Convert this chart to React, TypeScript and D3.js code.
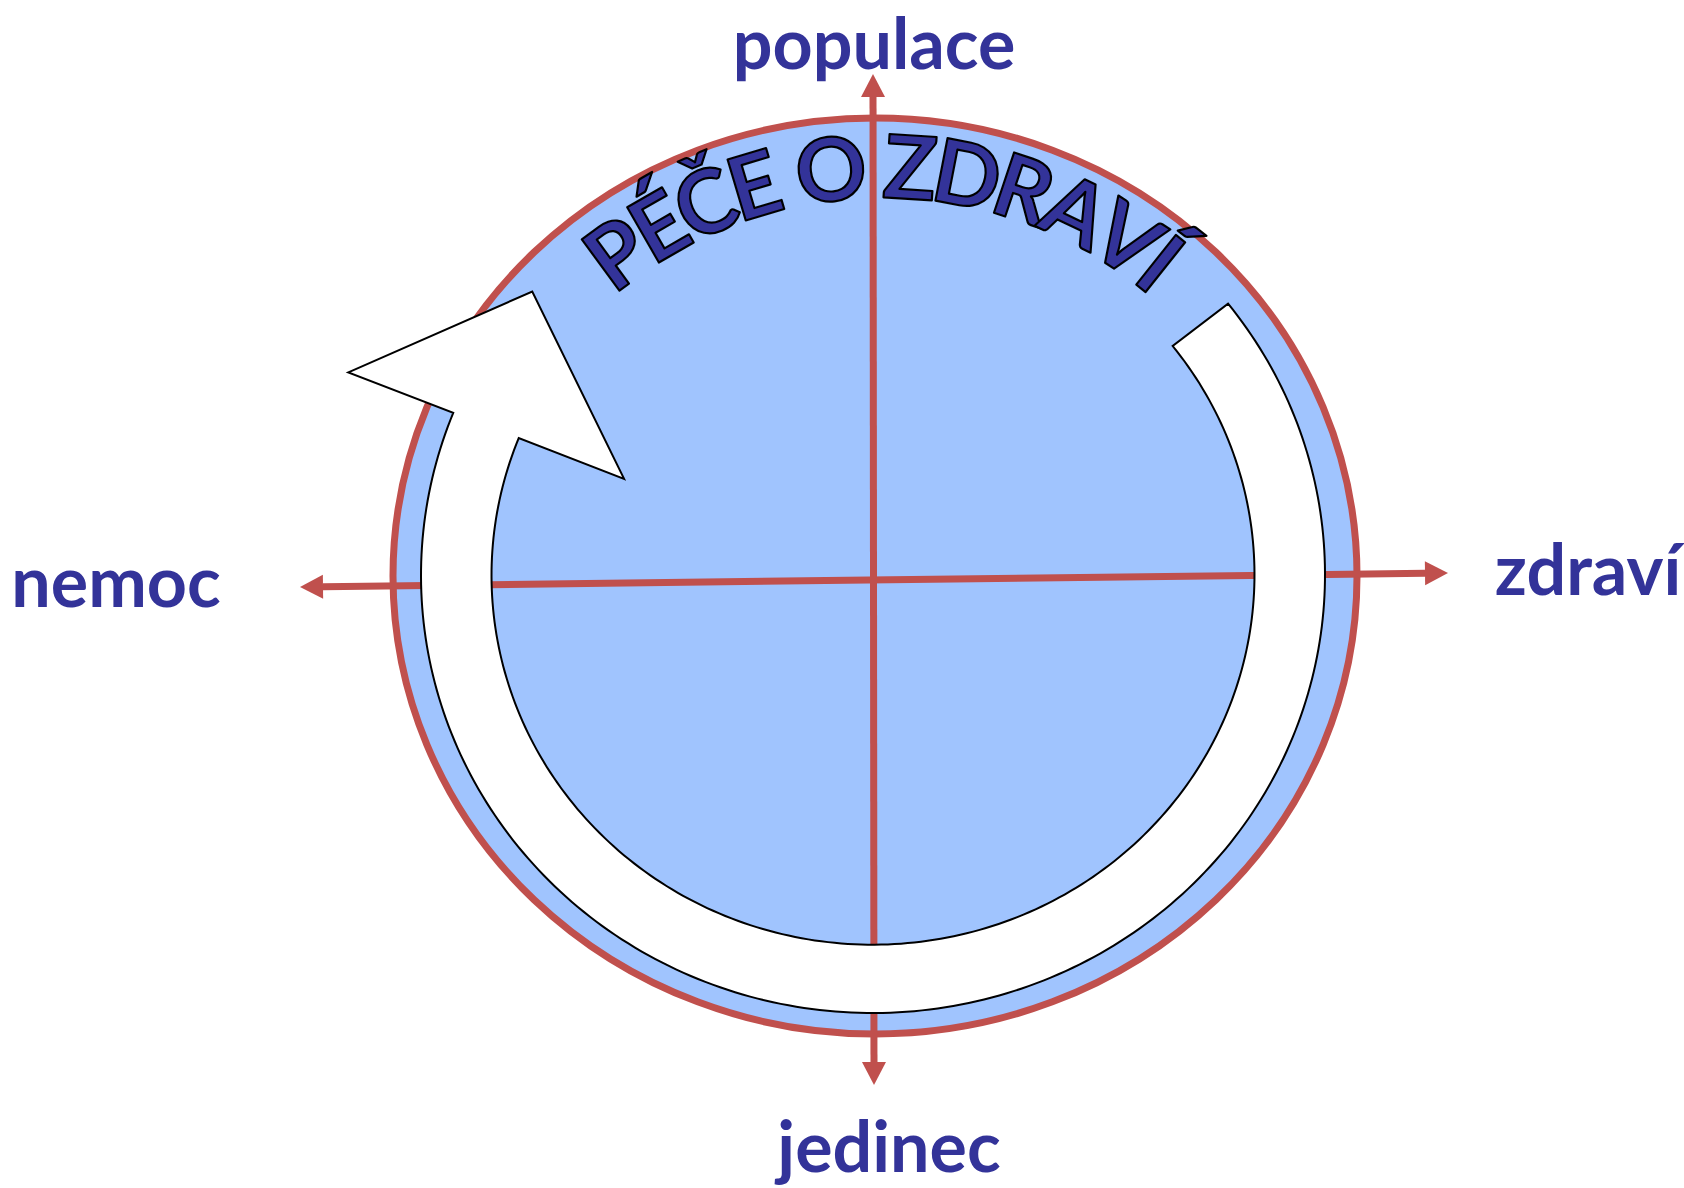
import { useMemo } from "react";
import * as d3 from "d3";

const W = 1684;
const H = 1188;

// axis end labels: top, right, bottom, left
const AXIS_LABELS = ["populace", "zdraví", "jedinec", "nemoc"];
const TITLE = "PÉČE O ZDRAVÍ";

// ring arrow, angles in degrees (0 = right, growing clockwise)
const RING_SPAN = [-37.5, 202.5];
const RING_INNER = 0.844; // inner edge as a share of the outer edge
const HEAD_BASE = [1.25, 0.593]; // arrow head base, outer and inner end
const HEAD_TIP = [221.4, 0.994]; // angle, radius share

const BLUE = "#a0c4fe";
const RED = "#c0504d";
const INK = "#333399";
const FONT = "Lato, 'Open Sans', sans-serif";

const DISC = { cx: 875, cy: 576, rx: 482, ry: 458 };
const RING = { cx: 873, cy: 575, rx: 452, ry: 438, tilt: -0.75 };

// axis lines, in a -1..1 frame
const xh = d3.scaleLinear().domain([-1, 1]).range([300, 1448]);
const yh = d3.scaleLinear().domain([-1, 1]).range([587, 573]);
const yv = d3.scaleLinear().domain([-1, 1]).range([1085, 74]);
const xv = d3.scaleLinear().domain([-1, 1]).range([874, 873]);

const TITLE_SIZE = 88;
const TITLE_ARC = { cx: 882, cy: 614, r: 416, from: -36.3, to: 38.5 };

const rad = (d: number) => (d * Math.PI) / 180;

function ringPoint(t: number, s: number): [number, number] {
  const a = rad(t);
  const ex = RING.rx * s * Math.cos(a);
  const ey = RING.ry * s * Math.sin(a);
  const r = rad(RING.tilt);
  return [
    RING.cx + ex * Math.cos(r) - ey * Math.sin(r),
    RING.cy + ex * Math.sin(r) + ey * Math.cos(r),
  ];
}

function arrowHead(x1: number, y1: number, x2: number, y2: number) {
  // tip at (x2,y2)
  const len = 23;
  const half = 12;
  const dx = x2 - x1;
  const dy = y2 - y1;
  const d = Math.hypot(dx, dy);
  const ux = dx / d;
  const uy = dy / d;
  const bx = x2 - ux * len;
  const by = y2 - uy * len;
  return {
    base: [bx, by],
    pts: `${x2},${y2} ${bx - uy * half},${by + ux * half} ${bx + uy * half},${by - ux * half}`,
  };
}

function Axis({ x1, y1, x2, y2 }: { x1: number; y1: number; x2: number; y2: number }) {
  const a = arrowHead(x1, y1, x2, y2);
  const b = arrowHead(x2, y2, x1, y1);
  return (
    <g>
      <line x1={b.base[0]} y1={b.base[1]} x2={a.base[0]} y2={a.base[1]} stroke={RED} strokeWidth={7} />
      <polygon points={a.pts} fill={RED} />
      <polygon points={b.pts} fill={RED} />
    </g>
  );
}

export default function App() {
  const ringPath = useMemo(() => {
    const n = 240;
    const ts = d3.range(n + 1).map((i) => RING_SPAN[0] + ((RING_SPAN[1] - RING_SPAN[0]) * i) / n);
    const outer = ts.map((t) => ringPoint(t, 1));
    const inner = ts.map((t) => ringPoint(t, RING_INNER)).reverse();
    const end = RING_SPAN[1];
    const pts = [
      ...outer,
      ringPoint(end, HEAD_BASE[0]),
      ringPoint(HEAD_TIP[0], HEAD_TIP[1]),
      ringPoint(end, HEAD_BASE[1]),
      ...inner,
    ];
    return d3.line()(pts as [number, number][]) + "Z";
  }, []);

  const letters = useMemo(() => {
    const ctx = document.createElement("canvas").getContext("2d")!;
    ctx.font = `700 ${TITLE_SIZE}px Lato`;
    const chars = Array.from(TITLE);
    let acc = 0;
    const mids = chars.map((c) => {
      const w = ctx.measureText(c).width;
      const m = acc + w / 2;
      acc += w;
      return m;
    });
    const ang = d3
      .scaleLinear()
      .domain([mids[0], mids[mids.length - 1]])
      .range([TITLE_ARC.from, TITLE_ARC.to]);
    return chars.map((c, i) => {
      const th = ang(mids[i]);
      const x = TITLE_ARC.cx + TITLE_ARC.r * Math.sin(rad(th));
      const y = TITLE_ARC.cy - TITLE_ARC.r * Math.cos(rad(th));
      return { c, x, y, th };
    });
  }, []);

  const labelStyle = {
    fontFamily: FONT,
    fontWeight: 700,
    fontSize: 70,
    fill: INK,
  };

  return (
    <svg
      width={W}
      height={H}
      viewBox={`0 0 ${W} ${H}`}
      style={{ position: "absolute", left: 0, top: 0, background: "#fff" }}
    >
      <ellipse cx={DISC.cx} cy={DISC.cy} rx={DISC.rx} ry={DISC.ry} fill={BLUE} stroke={RED} strokeWidth={7} />

      <Axis x1={xh(-1)} y1={yh(-1)} x2={xh(1)} y2={yh(1)} />
      <Axis x1={xv(-1)} y1={yv(-1)} x2={xv(1)} y2={yv(1)} />

      <path d={ringPath} fill="#fff" stroke="#000" strokeWidth={2} strokeLinejoin="miter" />

      <g fontFamily={FONT} fontWeight={700} fontSize={TITLE_SIZE} textAnchor="middle">
        {letters.map((l, i) => (
          <text
            key={i}
            transform={`translate(${l.x},${l.y}) rotate(${l.th})`}
            fill={INK}
            stroke="#000"
            strokeWidth={2.2}
            strokeLinejoin="round"
          >
            {l.c}
          </text>
        ))}
      </g>

      <text x={874} y={69} textAnchor="middle" style={labelStyle}>{AXIS_LABELS[0]}</text>
      <text x={1588} y={595} textAnchor="middle" style={labelStyle}>{AXIS_LABELS[1]}</text>
      <text x={889} y={1172} textAnchor="middle" style={labelStyle}>{AXIS_LABELS[2]}</text>
      <text x={116} y={607} textAnchor="middle" style={labelStyle}>{AXIS_LABELS[3]}</text>
    </svg>
  );
}
